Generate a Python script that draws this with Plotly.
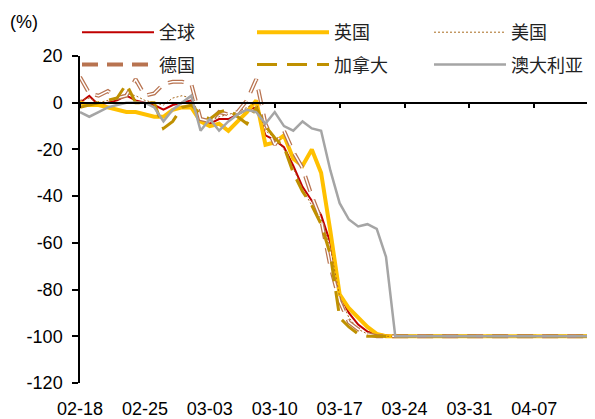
import pandas as pd
import plotly.graph_objects as go

dates = pd.date_range("2020-02-18", periods=56, freq="D")
tick_dates = ["2020-02-18", "2020-02-25", "2020-03-03", "2020-03-10",
              "2020-03-17", "2020-03-24", "2020-03-31", "2020-04-07"]
tick_text = ["02-18", "02-25", "03-03", "03-10", "03-17", "03-24", "03-31", "04-07"]
y_tickvals = [20, 0, -20, -40, -60, -80, -100, -120]
y_ticktext = ["20", "0", "-20", "-40", "-60", "-80", "-100", "-120"]

tail = [-100] * 22

global_vals = [0, 3, -1, 0, 1, 3, 1, 0, -1, -3, -1, 0, 1, -8, -9, -7, -7, -5, -3, -2,
               -14, -16, -19, -27, -36, -42, -48, -60, -82, -90, -95, -98, -99, -99.5] + tail
uk_vals = [0, -1, -1, -2, -3, -4, -4, -5, -6, -6, -3, -2, -2, -8, -10, -9, -12, -8, -4, 1,
           -18, -17, -14, -24, -27, -20, -30, -55, -82, -88, -92, -96, -99, -100] + tail
us_vals = [1, 2, 0, 1, 2, 4, 3, 1, 0, -1, 2, 3, 2, -6, -8, -6, -5, -4, -2, 0,
           -12, -15, -20, -28, -37, -44, -50, -62, -83, -92, -97, -99, -100, -100] + tail
de_vals = [11, 4, 3, 5, 2, 3, 10, 3, 4, 8, 9, 9, 8, -7, -8, -4, -5, -4, 1, 10,
           -9, -18, -12, -21, -28, -40, -50, -70, -85, -94, -97, -99, -100, -100] + tail
ca_vals = [-2, -1, 0, 1, 2, 8, 0, 0, 0, -11, -8, -2, -1, -5, -7, -4, -3, -6, -9, -2,
           -10, -15, -19, -30, -38, -44, -52, -65, -92, -96, -99, -100, -100, -100] + tail
au_vals = [-4, -6, -4, -2, -1, 0, 0, 0, -2, -8, -3, 0, 3, -12, -7, -12, -8, -5, -3, -4,
           -9, -4, -10, -12, -8, -11, -12, -29, -43, -50, -53, -52, -54, -66] + [-100] * 22

fig = go.Figure()
fig.add_trace(go.Scatter(x=dates, y=global_vals, name="全球", mode="lines", legendgroup="g1",
                         line=dict(color="#C00000", width=2), legend="legend"))
fig.add_trace(go.Scatter(x=dates, y=uk_vals, name="英国", mode="lines", legendgroup="g2",
                         line=dict(color="#FFC000", width=4), legend="legend2"))
fig.add_trace(go.Scatter(x=dates, y=us_vals, name="美国", mode="lines", legendgroup="g3",
                         line=dict(color="#A86A1E", width=1, dash="2px,2px"), legend="legend3"))
fig.add_trace(go.Scatter(x=dates, y=de_vals, name="德国", mode="lines", legendgroup="g4",
                         line=dict(color="#B87350", width=4, dash="16px,9px"), legend="legend"))
fig.add_trace(go.Scatter(x=dates, y=de_vals, name="德国", mode="lines", showlegend=False,
                         line=dict(color="#FFFFFF", width=1.5, dash="16px,9px"), hoverinfo="skip"))
fig.add_trace(go.Scatter(x=dates, y=ca_vals, name="加拿大", mode="lines", legendgroup="g5",
                         line=dict(color="#BF9000", width=3, dash="20px,10px"), legend="legend2"))
fig.add_trace(go.Scatter(x=dates, y=au_vals, name="澳大利亚", mode="lines", legendgroup="g6",
                         line=dict(color="#A5A5A5", width=2.5), legend="legend3", xaxis="x2"))

W, H = 587, 411  # page body adds an 8px offset

legend_common = dict(orientation="v", xref="container", yref="container",
                     xanchor="left", yanchor="top", itemwidth=72, tracegroupgap=6,
                     bgcolor="rgba(0,0,0,0)",
                     font=dict(family="Noto Sans CJK SC", size=18, color="#222222"))

legend_top = 1 - 6 / H

fig.update_layout(
    width=W, height=H,
    margin=dict(l=72, r=5, t=48, b=36, autoexpand=False),
    paper_bgcolor="white", plot_bgcolor="white",
    font=dict(family="Liberation Sans, Arial", size=18, color="black"),
    showlegend=True,
    legend=dict(legend_common, x=69 / W, y=legend_top),
    legend2=dict(legend_common, x=244 / W, y=legend_top),
    legend3=dict(legend_common, x=421 / W, y=legend_top),
    xaxis=dict(type="date", range=["2020-02-18", "2020-04-13"], tickvals=tick_dates,
               ticktext=tick_text, showline=False, ticks="", showgrid=False, zeroline=False,
               ticklabelstandoff=13, tickfont=dict(size=18)),
    xaxis2=dict(type="date", overlaying="x", matches="x", anchor="free", position=120 / 140,
                side="bottom", showline=True, linecolor="black", linewidth=1.5,
                ticks="outside", ticklen=5, tickwidth=1.5, tickcolor="black",
                tickvals=tick_dates, showticklabels=False, showgrid=False, zeroline=False),
    yaxis=dict(range=[-120, 20], tickvals=y_tickvals, ticktext=y_ticktext,
               showline=True, linecolor="black", linewidth=1.5, ticks="outside", ticklen=6,
               tickwidth=1.5, tickcolor="black", showgrid=False, zeroline=False,
               ticklabelstandoff=6, tickfont=dict(size=18)),
    annotations=[dict(text="(%)", xref="paper", yref="paper", x=-72 / 510, y=1 + 34 / 327,
                      xanchor="left", yanchor="middle", showarrow=False, font=dict(size=18))],
)

fig.write_html("out.html")
